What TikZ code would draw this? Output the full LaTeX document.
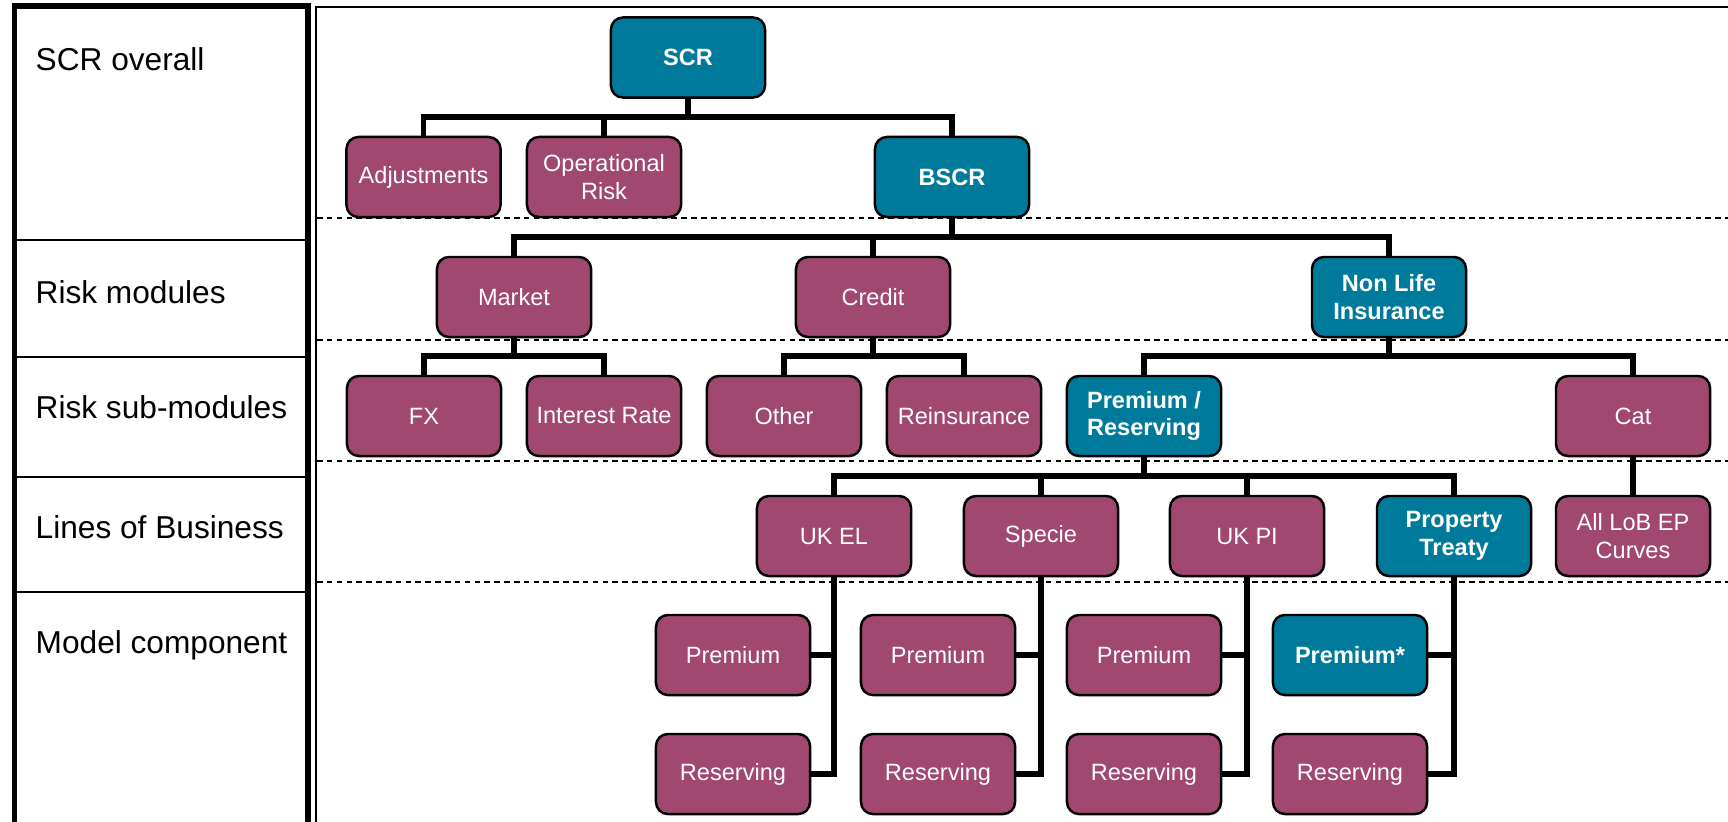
\documentclass[tikz,border=0pt]{standalone}
\usepackage{fontspec}
\setmainfont{Liberation Sans}
\usepackage{tikz}
\definecolor{plum}{RGB}{160, 72, 111}
\definecolor{petrol}{RGB}{0, 122, 154}
\tikzset{
  box/.style={draw=black, line width=0.7pt, rounded corners=3.4pt, minimum width=1.54cm,
              minimum height=0.80cm, inner sep=1pt, align=center, text=white,
              font=\fontsize{6.7}{7.9}\selectfont},
  riskbox/.style={box, fill=plum},
  keybox/.style={box, fill=petrol, font=\fontsize{6.7}{7.9}\selectfont\bfseries},
  link/.style={line width=1.7pt},
  level/.style={anchor=base west, inner sep=0pt, font=\fontsize{9}{11}\selectfont},
  tier/.style={line width=0.6pt, dash pattern=on 1.6pt off 1.2pt}
}
\begin{document}
\begin{tikzpicture}[x=0.01cm, y=-0.01cm]
        \useasboundingbox (0,0) rectangle (1728,821);
        % left panel with the level names
        \draw[line width=1.6pt] (14.5,830) -- (14.5,6) -- (308,6) -- (308,830);
        \foreach \y in {240, 357, 477, 592}
            \draw[line width=0.7pt] (14.5,\y) -- (308,\y);
        \node[level] (lvlscr)  at (35, 70)  {SCR overall};
        \node[level] (lvlmod)  at (35, 303) {Risk modules};
        \node[level] (lvlsub)  at (35, 418) {Risk sub-modules};
        \node[level] (lvllob)  at (35, 538) {Lines of Business};
        \node[level] (lvlcomp) at (35, 653) {Model component};
        % right panel
        \draw[line width=0.6pt] (316,830) -- (316,7) -- (1730,7);
        \foreach \y in {218, 340, 461, 582}
            \draw[tier] (317,\y) -- (1728,\y);

        % SCR overall
        \node[keybox]  (scr)     at ( 688, 57.5) {SCR};
        \node[riskbox] (adj)     at ( 423.5,177) {Adjustments};
        \node[riskbox] (oprisk)  at ( 604, 177)  {Operational\\Risk};
        \node[keybox]  (bscr)    at ( 952, 177)  {BSCR};
        % risk modules
        \node[riskbox] (market)  at ( 514, 297)  {Market};
        \node[riskbox] (credit)  at ( 873, 297)  {Credit};
        \node[keybox]  (nonlife) at (1389, 297)  {Non Life\\Insurance};
        % risk sub-modules
        \node[riskbox] (fx)      at ( 424, 416)  {FX};
        \node[riskbox] (irate)   at ( 604, 416)  {Interest Rate};
        \node[riskbox] (other)   at ( 784, 416)  {Other};
        \node[riskbox] (reins)   at ( 964, 416)  {Reinsurance};
        \node[keybox]  (premres) at (1144, 416)  {Premium /\\Reserving};
        \node[riskbox] (cat)     at (1633, 416)  {Cat};
        % lines of business
        \node[riskbox] (ukel)    at ( 834, 536)  {UK EL};
        \node[riskbox] (specie)  at (1041, 536)  {Specie};
        \node[riskbox] (ukpi)    at (1247, 536)  {UK PI};
        \node[keybox]  (proptr)  at (1454, 536)  {Property\\Treaty};
        \node[riskbox] (alllob)  at (1633, 536)  {All LoB EP\\Curves};
        % model components
        \node[riskbox] (premel)  at ( 733, 655)  {Premium};
        \node[riskbox] (premsp)  at ( 938, 655)  {Premium};
        \node[riskbox] (prempi)  at (1144, 655)  {Premium};
        \node[keybox]  (prempt)  at (1350, 655)  {Premium*};
        \node[riskbox] (resel)   at ( 733, 774)  {Reserving};
        \node[riskbox] (ressp)   at ( 938, 774)  {Reserving};
        \node[riskbox] (respi)   at (1144, 774)  {Reserving};
        \node[riskbox] (respt)   at (1350, 774)  {Reserving};

        % tree connectors
        \coordinate (busscr)  at ( 688, 117);
        \coordinate (busbscr) at ( 952, 237);
        \coordinate (busmkt)  at ( 514, 356);
        \coordinate (buscrd)  at ( 873, 356);
        \coordinate (busnl)   at (1389, 356);
        \coordinate (buspr)   at (1144, 476);
        \draw[link] (scr.south) -- (busscr);
        \foreach \c in {adj, oprisk, bscr}
            \draw[link] (busscr) -| (\c.north);
        \draw[link] (bscr.south) -- (busbscr);
        \foreach \c in {market, credit, nonlife}
            \draw[link] (busbscr) -| (\c.north);
        \draw[link] (market.south) -- (busmkt);
        \foreach \c in {fx, irate}
            \draw[link] (busmkt) -| (\c.north);
        \draw[link] (credit.south) -- (buscrd);
        \foreach \c in {other, reins}
            \draw[link] (buscrd) -| (\c.north);
        \draw[link] (nonlife.south) -- (busnl);
        \foreach \c in {premres, cat}
            \draw[link] (busnl) -| (\c.north);
        \draw[link] (premres.south) -- (buspr);
        \foreach \c in {ukel, specie, ukpi, proptr}
            \draw[link] (buspr) -| (\c.north);
        \draw[link] (cat.south) -- (alllob.north);
        % line of business to its components
        \foreach \l/\p/\r in {ukel/premel/resel, specie/premsp/ressp, ukpi/prempi/respi, proptr/prempt/respt}{
            \draw[link] (\l.south) |- (\r.east);
            \draw[link] (\p.east) -- (\p.east -| \l.south);
        }
\end{tikzpicture}
\end{document}
